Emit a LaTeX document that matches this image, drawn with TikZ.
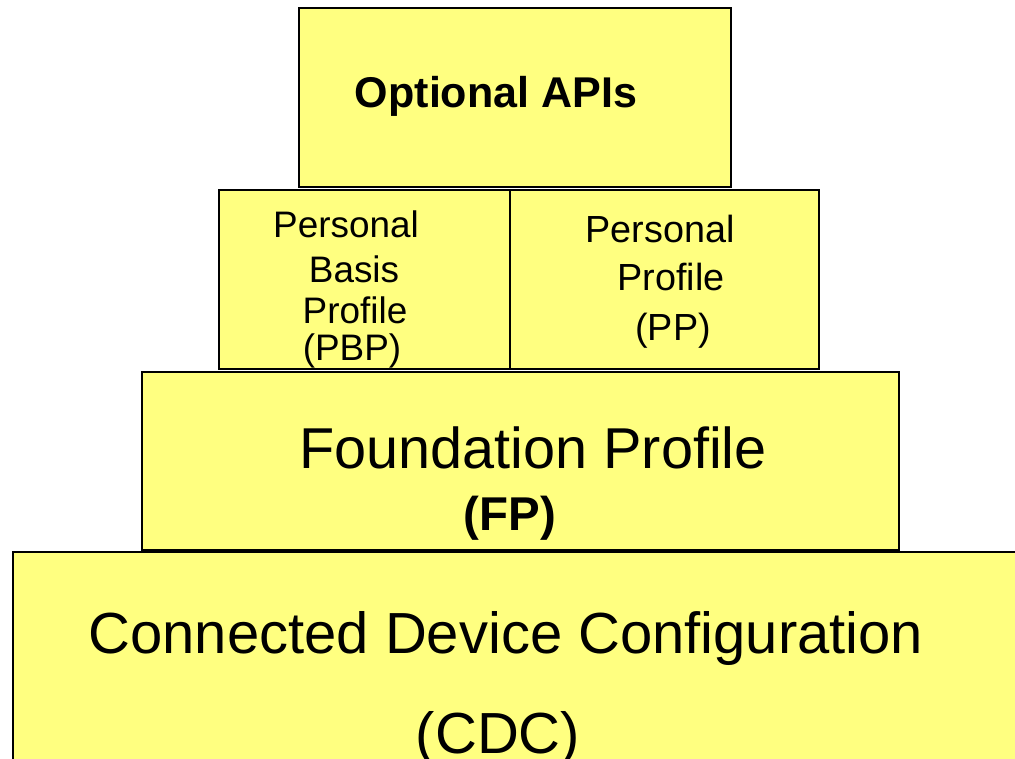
\documentclass[tikz,border=0pt]{standalone}
\usepackage{fontspec}
\setmainfont{Liberation Sans}
\usepackage{tikz}

\definecolor{layeryellow}{RGB}{255,255,128}

\tikzset{
	layer/.style={draw=black, fill=layeryellow, line width=1.2pt},
	lbl/.style={anchor=base, inner sep=0pt},
}

\begin{document}
\begin{tikzpicture}[x=0.02cm, y=-0.02cm]
	\useasboundingbox (0,0) rectangle (1015,759);
	\clip (0,0) rectangle (1015,759);
	% the stacked layers, top to bottom
	\draw[layer] (299,8) rectangle (731,187);
	\draw[layer] (219,190) rectangle (510,369);
	\draw[layer] (510,190) rectangle (819,369);
	\draw[layer] (142,372) rectangle (899,550);
	\draw[layer] (13,552) rectangle (1040,790);
	% labels
	\node[lbl, font=\fontsize{24.5}{29}\selectfont\bfseries] (opt) at (496,108) {Optional APIs};
	\node[lbl, font=\fontsize{21}{25}\selectfont] (pbp1) at (346,238) {Personal};
	\node[lbl, font=\fontsize{21}{25}\selectfont] (pbp2) at (354,283) {Basis};
	\node[lbl, font=\fontsize{21}{25}\selectfont] (pbp3) at (355,324) {Profile};
	\node[lbl, font=\fontsize{21}{25}\selectfont] (pbp4) at (352,361) {(PBP)};
	\node[lbl, font=\fontsize{21.5}{25}\selectfont] (pp1) at (660,243) {Personal};
	\node[lbl, font=\fontsize{21.5}{25}\selectfont] (pp2) at (671,291) {Profile};
	\node[lbl, font=\fontsize{21.5}{25}\selectfont] (pp3) at (673,341) {(PP)};
	\node[lbl, font=\fontsize{32.8}{38}\selectfont] (fp1) at (533,469) {Foundation Profile};
	\node[lbl, font=\fontsize{27}{32}\selectfont\bfseries] (fp2) at (510,531) {(FP)};
	\node[lbl, font=\fontsize{33}{38}\selectfont] (cdc1) at (506,654) {Connected Device Configuration};
	\node[lbl, font=\fontsize{33}{38}\selectfont] (cdc2) at (498,754) {(CDC)};
\end{tikzpicture}
\end{document}
